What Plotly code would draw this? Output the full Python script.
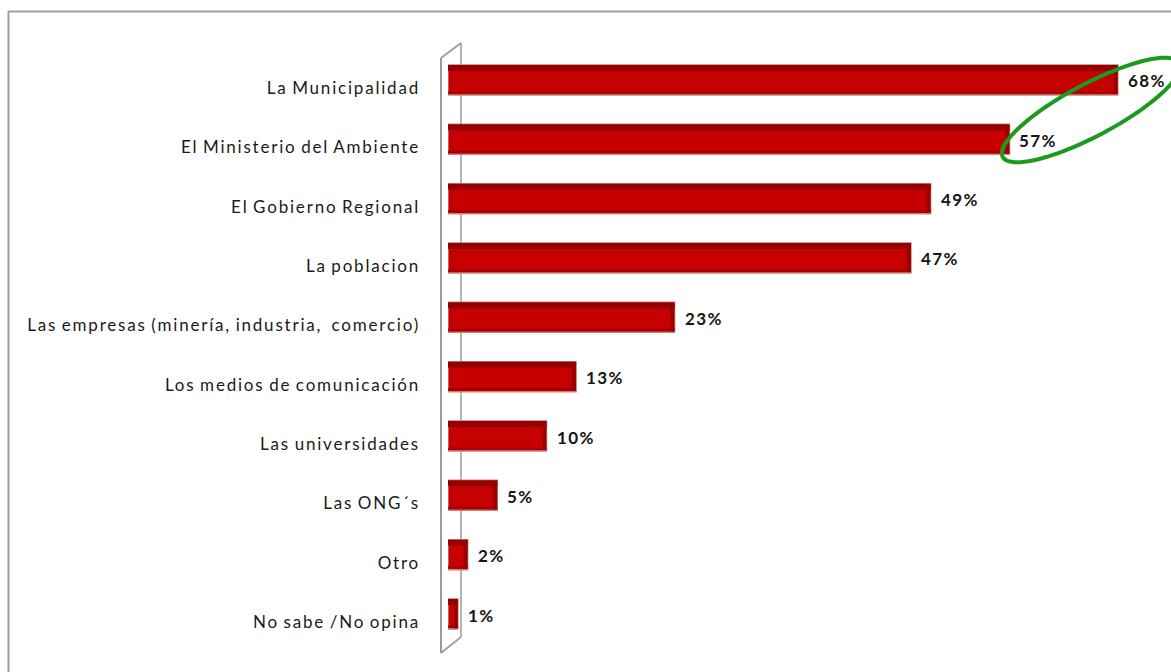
import math
import plotly.graph_objects as go

categories = [
    "La Municipalidad",
    "El Ministerio del Ambiente",
    "El Gobierno Regional",
    "La poblacion",
    "Las empresas (minería, industria,  comercio)",
    "Los medios de comunicación",
    "Las universidades",
    "Las ONG´s",
    "Otro",
    "No sabe /No opina",
]
values = [68, 57, 49, 47, 23, 13, 10, 5, 2, 1]
labels = [f"{v}%" for v in values]

W, H = 1171, 672
X0_PX = 448
PX_PER_UNIT = 9.85
XMAX = (W - X0_PX) / PX_PER_UNIT
Y_TOP_PX, Y_BOT_PX = 58.3, 651.7


def px(x):
    return x / W


def py(y):
    return 1 - y / H


BAR_OFF, BAR_W = -0.388, 0.506

fig = go.Figure()

# main bar body
fig.add_trace(go.Bar(
    y=categories, x=values, orientation="h",
    width=BAR_W, offset=BAR_OFF,
    marker=dict(color="#C60000", line=dict(color="#C98080", width=1.5)),
    hoverinfo="skip", showlegend=False,
))
# darker top face strip
fig.add_trace(go.Bar(
    y=categories, x=values, orientation="h",
    width=0.1, offset=BAR_OFF,
    marker=dict(color="#940000", line=dict(width=0)),
    hoverinfo="skip", showlegend=False,
))
# slight dark bottom edge
fig.add_trace(go.Bar(
    y=categories, x=values, orientation="h",
    width=0.04, offset=BAR_OFF + BAR_W - 0.06,
    marker=dict(color="#A80000", line=dict(width=0)),
    hoverinfo="skip", showlegend=False,
))
# right side face
fig.add_trace(go.Bar(
    y=categories, x=[0.4] * len(values), base=[v - 0.4 for v in values], orientation="h",
    width=BAR_W - 0.03, offset=BAR_OFF + 0.015,
    marker=dict(color="#9A0000", line=dict(width=0)),
    hoverinfo="skip", showlegend=False,
))

annotations = []
for c, v, t in zip(categories, values, labels):
    annotations.append(dict(
        x=v, y=c, xref="x", yref="y", text=t, showarrow=False,
        xanchor="left", yanchor="middle", align="left", xshift=8, yshift=7,
        font=dict(family="Lato", size=17, color="#151515", weight="bold"),
    ))

fig.update_layout(
    width=W, height=H,
    margin=dict(l=0, r=0, t=0, b=0),
    paper_bgcolor="white", plot_bgcolor="rgba(0,0,0,0)",
    barmode="overlay",
    font=dict(family="Lato", size=17, color="#1a1a1a"),
    xaxis=dict(domain=[px(X0_PX), 1], range=[0, XMAX], visible=False, fixedrange=True),
    yaxis=dict(
        domain=[py(Y_BOT_PX), py(Y_TOP_PX)],
        autorange="reversed", showgrid=False, zeroline=False, showline=False,
        ticks="", ticklabelstandoff=27, tickfont=dict(family="Lato", size=17, color="#1a1a1a"),
    ),
    annotations=annotations,
)

shapes = [
    # chart border (left and top)
    dict(type="line", xref="paper", yref="paper", x0=px(8.5), x1=px(8.5), y0=py(11), y1=0,
         line=dict(color="#A0A0A0", width=2)),
    dict(type="line", xref="paper", yref="paper", x0=px(8), x1=1, y0=py(11.5), y1=py(11.5),
         line=dict(color="#A0A0A0", width=2)),
    # 3D wall lines (behind bars)
    dict(type="line", xref="paper", yref="paper", x0=px(441), x1=px(441), y0=py(58), y1=py(653),
         line=dict(color="#9A9A9A", width=2), layer="below"),
    dict(type="line", xref="paper", yref="paper", x0=px(461), x1=px(461), y0=py(43), y1=py(637),
         line=dict(color="#B4B4B4", width=2), layer="below"),
    dict(type="line", xref="paper", yref="paper", x0=px(441), x1=px(461), y0=py(58), y1=py(43),
         line=dict(color="#A0A0A0", width=2), layer="below"),
    dict(type="line", xref="paper", yref="paper", x0=px(441), x1=px(461), y0=py(653), y1=py(637),
         line=dict(color="#A0A0A0", width=2), layer="below"),
]

# green highlight ellipse
cx, cy, a, b, ang = 1091, 110, 100, 26, math.radians(28)
pts = []
for i in range(97):
    t = 2 * math.pi * i / 96
    ex, ey = a * math.cos(t), b * math.sin(t)
    X = cx + ex * math.cos(ang) - ey * math.sin(ang)
    Y = cy - (ex * math.sin(ang) + ey * math.cos(ang))
    pts.append((px(X), py(Y)))
path = "M " + " L ".join(f"{x:.5f},{y:.5f}" for x, y in pts) + " Z"
shapes.append(dict(type="path", xref="paper", yref="paper", path=path,
                   line=dict(color="#1C9A1C", width=4)))
fig.update_layout(shapes=shapes)

post = """
document.body.style.margin='0';
document.body.style.overflow='hidden';
var gd=document.getElementById('{plot_id}');
gd.querySelectorAll('.ytick text').forEach(function(t){t.style.letterSpacing='1.8px';t.style.wordSpacing='-1.5px';});
gd.querySelectorAll('.annotation-text').forEach(function(t){t.style.letterSpacing='1.4px';});
"""

fig.write_html("out.html", post_script=post, config={"displayModeBar": False})
